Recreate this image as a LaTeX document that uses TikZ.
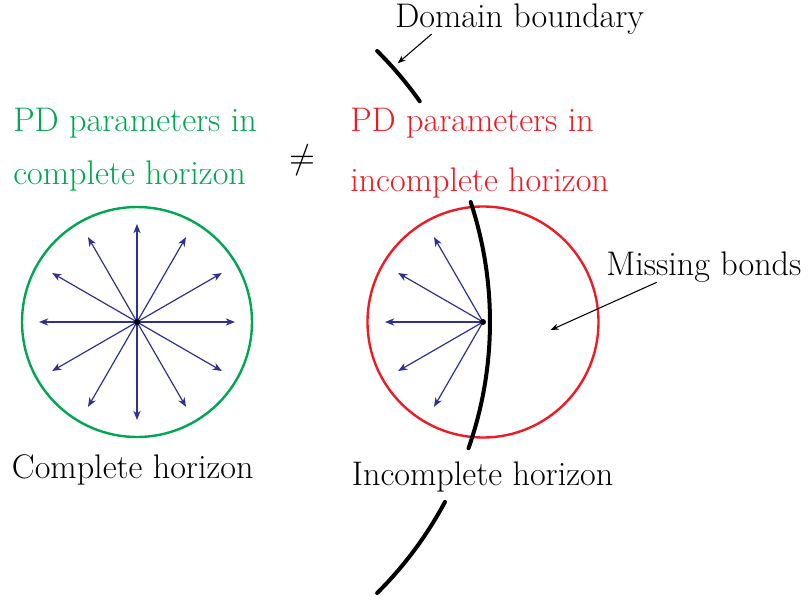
\documentclass[tikz,border=0pt]{standalone}
\usepackage{fontspec}
\newfontfamily\lmsym{latinmodern-math.otf}
\usetikzlibrary{arrows.meta}
\definecolor{pdgreen}{RGB}{0,166,81}
\definecolor{pdred}{RGB}{237,28,36}
\definecolor{bondblue}{RGB}{46,49,146}
\tikzset{
  lbl/.style={anchor=base west, inner sep=0pt, font=\fontsize{25.6}{30}\selectfont},
  horizon/.style={line width=1.8pt},
  bond/.style={bondblue, line width=0.9pt, -{Stealth[length=7pt,width=5.5pt]}},
  boundary/.style={line width=3pt, line cap=round},
  pointer/.style={line width=0.8pt, -{Stealth[length=6pt,width=4.5pt]}},
}
\begin{document}
\begin{tikzpicture}[x=0.75pt,y=-0.75pt]
\useasboundingbox (0,0) rectangle (808,601);
% centres
\coordinate (cL) at (137,322);
\coordinate (cR) at (483,322);
\coordinate (arcC) at (108,322);
% texts
\node[lbl] (dom) at (395,27) {Domain boundary};
\node[lbl, pdgreen] (g1) at (13,131.7) {PD parameters in};
\node[lbl, pdgreen] (g2) at (13,184.3) {complete horizon};
\node[lbl, pdred] (r1) at (350,131.7) {PD parameters in};
\node[lbl, pdred] (r2) at (350,191) {incomplete horizon};
\node[lbl] (ch) at (11.7,478.3) {Complete horizon};
\node[lbl] (ih) at (351.7,485) {Incomplete horizon};
\node[lbl] (mb) at (606,275) {Missing bonds};
\node[inner sep=0pt, font=\lmsym\fontsize{25}{30}\selectfont] (neq) at (302,160) {≠};
% horizons
\draw[horizon, pdgreen] (cL) circle[radius=115];
\draw[horizon, pdred] (cR) circle[radius=115.5];
% bonds, complete horizon
\foreach \a in {0,30,...,330} {
  \draw[bond] (cL) -- ++(\a:98);
}
% bonds, incomplete horizon
\foreach \a in {120,150,180,210,240} {
  \draw[bond] (cR) -- ++(\a:98);
}
\fill (cL) circle[radius=3];
\fill (cR) circle[radius=3];
% domain boundary (arc of large circle)
\draw[boundary] ([shift={(-45.2:382)}]arcC) arc[start angle=-45.2, end angle=-35.3, radius=382];
\draw[boundary] ([shift={(-18.3:382)}]arcC) arc[start angle=-18.3, end angle=19.3, radius=382];
\draw[boundary] ([shift={(28.1:382)}]arcC) arc[start angle=28.1, end angle=45.2, radius=382];
% pointers
\coordinate (domS) at (431.7,34);
\coordinate (domE) at (397.7,63.3);
\draw[pointer] (domS) -- (domE);
\coordinate (mbS) at (656.7,282.3);
\coordinate (mbE) at (550.7,330);
\draw[pointer] (mbS) -- (mbE);
\end{tikzpicture}
\end{document}
